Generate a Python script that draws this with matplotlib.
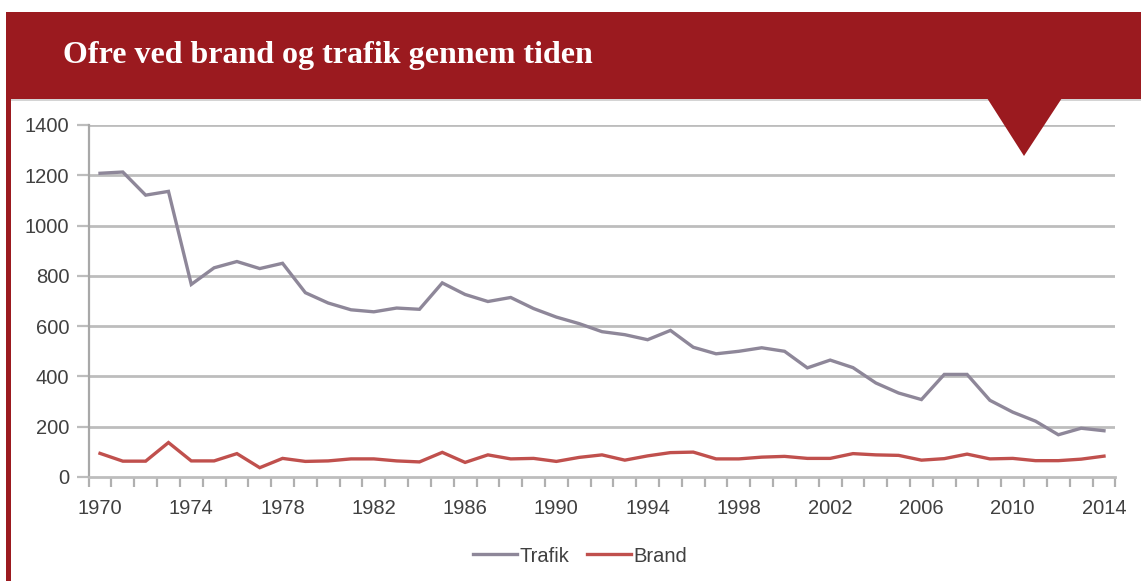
import matplotlib
matplotlib.use("Agg")
import matplotlib.pyplot as plt
from matplotlib.patches import Rectangle, Polygon
from matplotlib.lines import Line2D

years = list(range(1970, 2015))
trafik = [1208, 1213, 1121, 1136, 766, 832, 857, 829, 850, 733, 692, 665, 657, 672, 667,
          772, 726, 698, 714, 670, 636, 610, 578, 566, 546, 583, 516, 490, 500, 514,
          500, 434, 465, 435, 374, 334, 308, 408, 408, 305, 258, 222, 168, 194, 184]
brand = [94, 63, 63, 137, 64, 64, 93, 37, 74, 62, 64, 72, 72, 64, 60,
         98, 58, 88, 72, 74, 62, 78, 88, 67, 84, 97, 99, 72, 72, 79,
         82, 74, 74, 93, 88, 86, 67, 73, 91, 72, 74, 65, 65, 71, 83]
yticks = [0, 200, 400, 600, 800, 1000, 1200, 1400]
xticks = list(range(1970, 2015, 4))
title = "Ofre ved brand og trafik gennem tiden"
series_names = ["Trafik", "Brand"]

W, H = 1141, 581
RED = "#9b1a1f"
C_TRAFIK = "#8e8799"
C_BRAND = "#c0504d"
GRID = "#bdbdbd"
TXT = "#404040"

fig = plt.figure(figsize=(W / 100, H / 100), dpi=100)
fig.patch.set_facecolor("white")

def fx(px):
    return px / W

def fy(py):
    return 1 - py / H

# banner shadow
fig.patches.append(Rectangle((fx(11), fy(101)), fx(1141 - 11), 3 / H, transform=fig.transFigure,
                             facecolor="#d4d4d4", edgecolor="none", zorder=1))
# banner
fig.patches.append(Rectangle((fx(6), fy(99)), fx(1141 - 6), 87 / H, transform=fig.transFigure,
                             facecolor=RED, edgecolor="none", zorder=2))
# left border
fig.patches.append(Rectangle((fx(6), 0), fx(5), fy(98), transform=fig.transFigure,
                             facecolor=RED, edgecolor="none", zorder=2))
# triangle
fig.patches.append(Polygon([(fx(987), fy(98)), (fx(1062), fy(98)), (fx(1024), fy(156))],
                           closed=True, transform=fig.transFigure,
                           facecolor=RED, edgecolor="none", zorder=3))

fig.text(fx(63), fy(63), title, color="white", fontsize=23, fontweight="bold",
         family="Liberation Serif", va="baseline", ha="left", zorder=4)

ax = fig.add_axes([fx(88.6), fy(477), fx(1115.4 - 88.6), (477 - 125) / H])
ax.set_facecolor("none")
ax.set_zorder(2)

ax.plot(years, trafik, color=C_TRAFIK, lw=2.4, solid_joinstyle="miter", zorder=3)
ax.plot(years, brand, color=C_BRAND, lw=2.4, solid_joinstyle="miter", zorder=3)

ax.set_xlim(1969.5, 2014.5)
ax.set_ylim(0, 1400)
ax.set_yticks(yticks)
ax.set_yticklabels([str(v) for v in yticks])
ax.set_xticks(xticks)
ax.set_xticklabels([str(v) for v in xticks])
ax.set_xticks([y - 0.5 for y in years] + [2014.5], minor=True)

for v in yticks[1:]:
    ax.axhline(v, color=GRID, lw=2, zorder=1)

for s in ["top", "right"]:
    ax.spines[s].set_visible(False)
ax.spines["left"].set_color("#a8a8a8")
ax.spines["left"].set_linewidth(1.6)
ax.spines["bottom"].set_color(GRID)
ax.spines["bottom"].set_linewidth(2)

ax.tick_params(axis="y", length=9, width=1.6, color="#bdbdbd", labelsize=14.5,
               labelcolor=TXT, pad=5)
ax.tick_params(axis="x", which="major", length=0, labelsize=14.5, labelcolor=TXT, pad=16)
ax.tick_params(axis="x", which="minor", length=7, width=1.6, color="#b0b0b0")
for lab in ax.get_xticklabels() + ax.get_yticklabels():
    lab.set_family("Liberation Sans")

handles = [Line2D([], [], color=C_TRAFIK, lw=2.4), Line2D([], [], color=C_BRAND, lw=2.4)]
leg = fig.legend(handles, series_names, loc="center", bbox_to_anchor=(fx(580), fy(556)),
                 ncol=2, frameon=False, handlelength=2.2, handletextpad=0.1,
                 columnspacing=0.9, prop={"family": "Liberation Sans", "size": 14.5})
for t in leg.get_texts():
    t.set_color(TXT)

fig.savefig("out.png", dpi=100, facecolor="white")
